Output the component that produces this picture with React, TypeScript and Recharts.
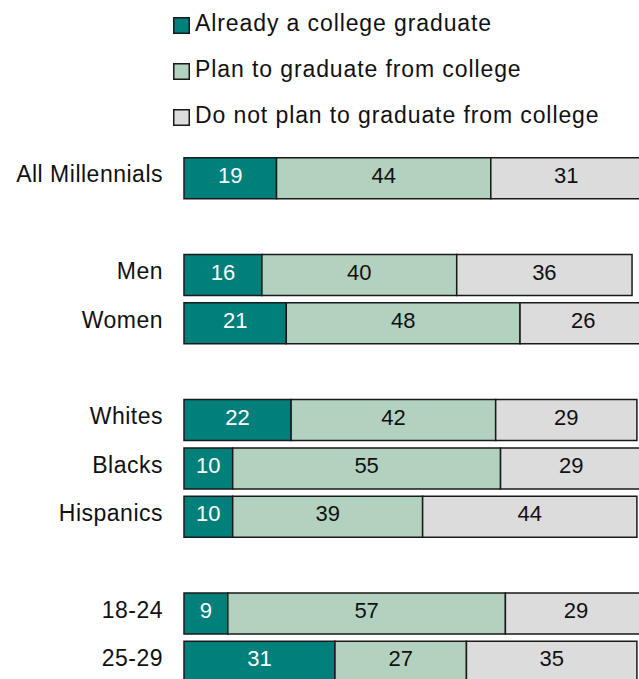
import React from "react";
import { BarChart, Bar, XAxis, YAxis, LabelList, Legend } from "recharts";

const categories = ["All Millennials", "", "Men", "Women", "", "Whites", "Blacks", "Hispanics", "", "18-24", "25-29"];
const alreadyGraduate = [19, null, 16, 21, null, 22, 10, 10, null, 9, 31];
const planToGraduate = [44, null, 40, 48, null, 42, 55, 39, null, 57, 27];
const doNotPlan = [31, null, 36, 26, null, 29, 29, 44, null, 29, 35];

const seriesNames = [
  "Already a college graduate",
  "Plan to graduate from college",
  "Do not plan to graduate from college",
];

const COLORS = ["#007f7b", "#b3d1bf", "#dcdcdc"];
const STROKE = "#1a1a1a";
const FONT = "'Liberation Sans', Arial, sans-serif";

const rows = categories.map((c, i) => ({
  key: `r${i}`,
  label: c,
  a: alreadyGraduate[i],
  b: planToGraduate[i],
  c: doNotPlan[i],
}));

const CategoryTick = (props: any) => {
  const { x, y, payload } = props;
  const label = rows[payload.index]?.label ?? "";
  return (
    <text x={x} y={y} dy={4.5} textAnchor="end" fontSize={23} fill="#111" letterSpacing={0.5} fontFamily={FONT}>
      {label}
    </text>
  );
};

const makeValueLabel = (color: string) => (props: any) => {
  const { x, y, width, height, value } = props;
  if (value === null || value === undefined) return null;
  return (
    <text
      x={x + width / 2}
      y={y + height / 2}
      dy={4.5}
      textAnchor="middle"
      fontSize={22}
      fill={color}
      fontFamily={FONT}
    >
      {value}
    </text>
  );
};

const LegendContent = (props: any) => {
  const payload = [...(props.payload || [])].sort(
    (p: any, q: any) => seriesNames.indexOf(p.value) - seriesNames.indexOf(q.value)
  );
  return (
    <svg width={639} height={140} style={{ display: "block" }}>
      {payload.map((entry: any, i: number) => (
        <g key={i}>
          <rect x={173.75} y={17.75 + i * 46} width={15.5} height={15.5} fill={entry.color} stroke={STROKE} strokeWidth={1.5} />
          <text x={195} y={30.5 + i * 46} fontSize={23} fill="#111" letterSpacing={0.9} fontFamily={FONT}>
            {entry.value}
          </text>
        </g>
      ))}
    </svg>
  );
};

export default function App() {
  return (
    <div
      style={{
        position: "fixed",
        top: 0,
        left: 0,
        width: 639,
        height: 679,
        overflow: "hidden",
        background: "#fff",
        fontFamily: FONT,
      }}
    >
      <BarChart
        layout="vertical"
        width={671}
        height={700}
        data={rows}
        margin={{ top: 153.8, right: 0, bottom: 14.35, left: 0 }}
        barSize={41}
      >
        <XAxis type="number" domain={[0, 100]} hide />
        <YAxis
          type="category"
          dataKey="key"
          width={184}
          tickLine={false}
          axisLine={false}
          tickSize={0}
          tickMargin={21}
          interval={0}
          tick={<CategoryTick />}
        />
        <Legend
          layout="vertical"
          align="center"
          verticalAlign="middle"
          wrapperStyle={{ top: 0, left: 0, width: 639, height: 140 }}
          content={<LegendContent />}
        />
        <Bar dataKey="a" name={seriesNames[0]} stackId="s" fill={COLORS[0]} stroke={STROKE} strokeWidth={1.5} isAnimationActive={false}>
          <LabelList dataKey="a" content={makeValueLabel("#ffffff")} />
        </Bar>
        <Bar dataKey="b" name={seriesNames[1]} stackId="s" fill={COLORS[1]} stroke={STROKE} strokeWidth={1.5} isAnimationActive={false}>
          <LabelList dataKey="b" content={makeValueLabel("#111")} />
        </Bar>
        <Bar dataKey="c" name={seriesNames[2]} stackId="s" fill={COLORS[2]} stroke={STROKE} strokeWidth={1.5} isAnimationActive={false}>
          <LabelList dataKey="c" content={makeValueLabel("#111")} />
        </Bar>
      </BarChart>
    </div>
  );
}
